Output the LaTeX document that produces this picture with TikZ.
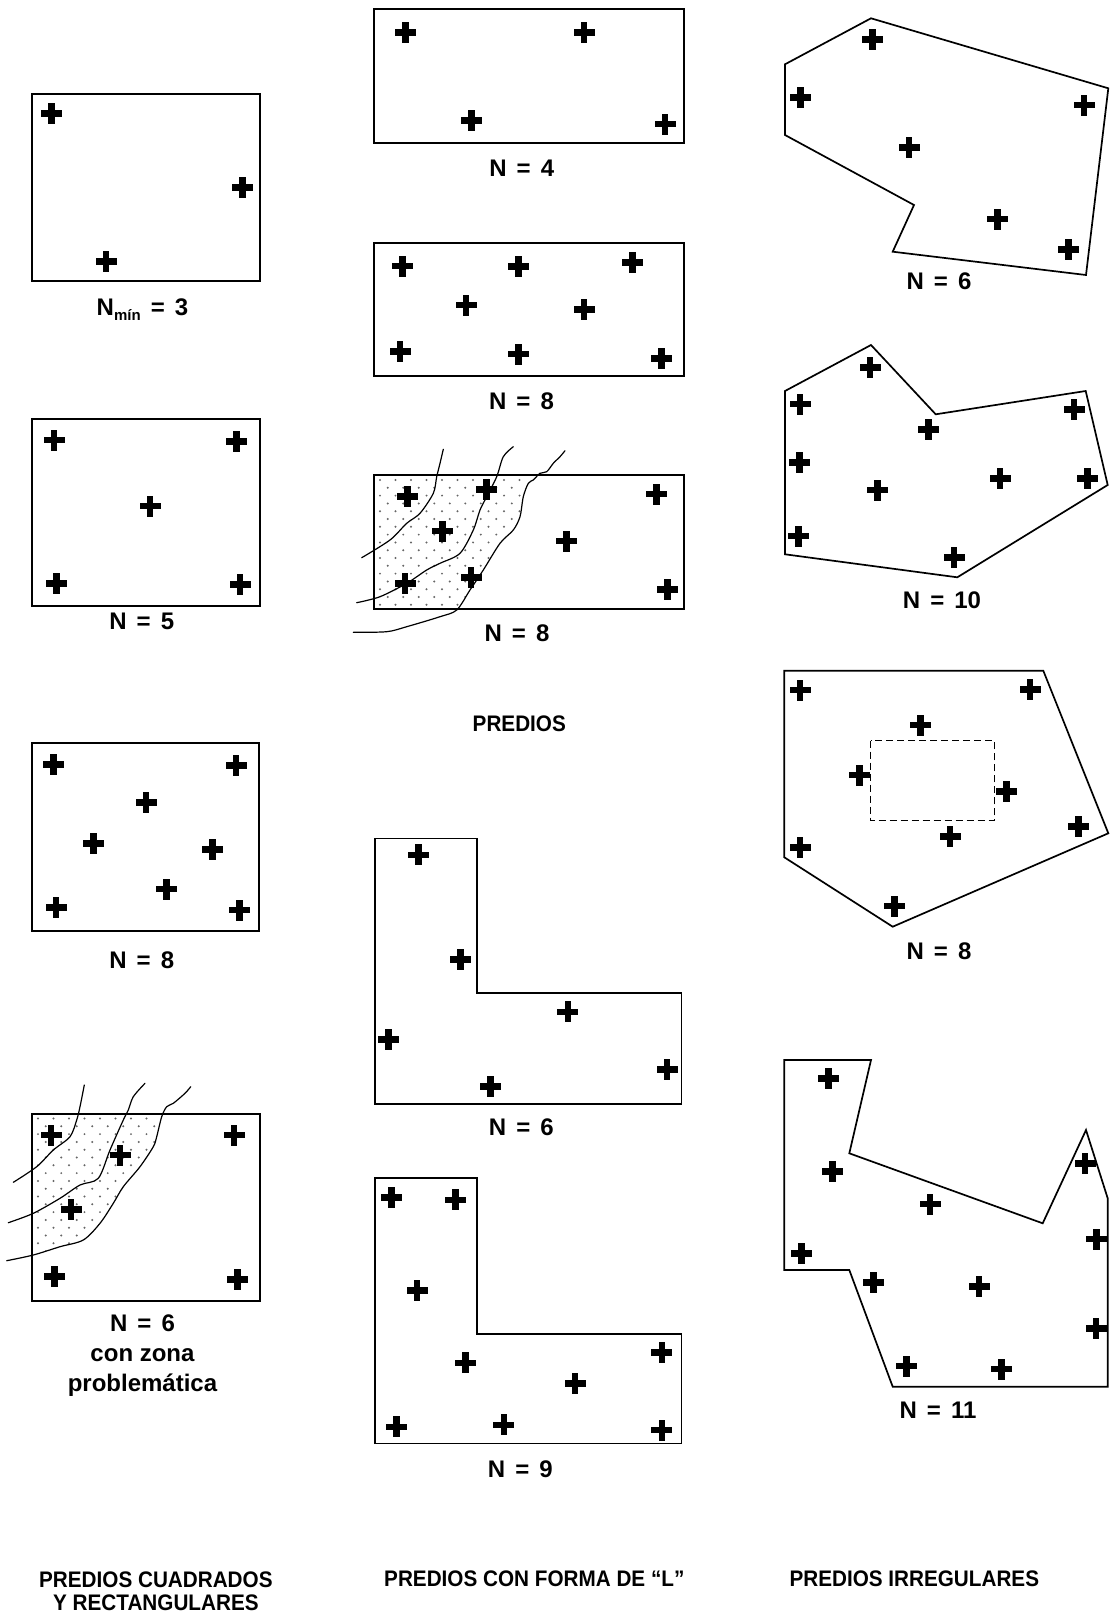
\documentclass[tikz,border=0pt]{standalone}
\usepackage{fontspec}
\setmainfont{Liberation Sans}
\newfontfamily\titfont[FakeStretch=0.92]{Liberation Sans}
\newcommand\igual{\hspace{0.42em}=\hspace{0.42em}}
\begin{document}
\begin{tikzpicture}[x=1pt,y=-1pt]
\tikzset{
  lot/.style={draw=black, line width=1.7pt, line join=miter},
  hueco/.style={draw=black, line width=1.5pt, dash pattern=on 7pt off 4pt},
  curva/.style={draw=black, line width=1.2pt, line cap=round},
  lbl/.style={font=\fontsize{24}{26}\selectfont\bfseries, inner sep=0pt},
  ttl/.style={font=\titfont\fontsize{22.5}{25}\selectfont\bfseries, inner sep=0pt, align=center},
  punto/.style={fill=black!60},
  cruz/.pic={\fill[black] (-10.5,-3.3) rectangle (10.5,3.3); \fill[black] (-3.3,-10.5) rectangle (3.3,10.5);}
}
\useasboundingbox (0,0) rectangle (1112,1619);

% ---------------- column 1: squares ----------------
\draw[lot] (32,94) rectangle (260,281);
\foreach \x/\y in {51.7/113.3, 242.3/187.3, 106/261.7} \pic at (\x,\y) {cruz};
\node[lbl, anchor=base] (nmin) at (142.5,315) {N\raisebox{-5pt}{\fontsize{15}{15}\selectfont mín}\igual 3};

\draw[lot] (32,419) rectangle (260,605.7);
\foreach \x/\y in {54/440, 236.7/441.7, 150/506, 56.7/583.3, 240/584.3} \pic at (\x,\y) {cruz};
\node[lbl] (n5) at (141.7,621.7) {N\igual 5};

\draw[lot] (32,743.3) rectangle (259,930.7);
\foreach \x/\y in {53.3/764.3, 236/765.7, 146/802.7, 93.3/843.3, 212.3/849.3, 166.7/889, 56/907.3, 239.3/910} \pic at (\x,\y) {cruz};
\node[lbl] (n8a) at (141.7,960) {N\igual 8};

% square with problem zone
\begin{scope}
  \clip (32,1114) rectangle (260,1301);
  \clip plot[smooth] coordinates {(190.7,1086.7) (185,1093.3) (173.3,1103.3) (166.7,1106.7) (161.7,1116.7) (156.7,1136.7) (153.3,1146.7) (140,1166.7) (123.3,1186.7) (113.3,1203.3) (100,1223.3) (83.3,1240) (60,1246.7) (33.3,1255) (6.7,1260.7)} -- (0,1260.7) -- (0,1086.7) -- cycle;
  \foreach \j in {0,...,22} \foreach \i in {0,...,12} {
    \pgfmathsetmacro\xx{38+mod(\j,2)*7.75+\i*15.5}
    \fill[punto] (\xx,1118.5+\j*7.8) circle (1.1);
  }
\end{scope}
\draw[lot] (32,1114) rectangle (260,1301);
\draw[curva] plot[smooth] coordinates {(84.3,1085) (80,1106.7) (76.7,1120) (70,1136.7) (53.3,1150) (36.7,1166.7) (13.3,1182.3)};
\draw[curva] plot[smooth] coordinates {(145,1083.3) (133.3,1096.7) (128.3,1110) (123.3,1120) (110,1150) (98.3,1178.3) (80,1185) (60,1198.3) (33.3,1213.3) (8.3,1222.7)};
\draw[curva] plot[smooth] coordinates {(190.7,1086.7) (185,1093.3) (173.3,1103.3) (166.7,1106.7) (161.7,1116.7) (156.7,1136.7) (153.3,1146.7) (140,1166.7) (123.3,1186.7) (113.3,1203.3) (100,1223.3) (83.3,1240) (60,1246.7) (33.3,1255) (6.7,1260.7)};
\foreach \x/\y in {51/1135, 120/1155, 71/1209.3, 234/1135, 54.3/1276.7, 237.3/1279.3} \pic at (\x,\y) {cruz};
\node[lbl, align=center] (n6z) at (142.5,1355.7) {N\igual 6\\[4pt]con zona\\[4pt]problemática};

% ---------------- column 2: rectangles ----------------
\draw[lot] (374,9.3) rectangle (684,142.7);
\foreach \x/\y in {405.7/32.3, 584/32.3, 471.7/120.7, 665/124} \pic at (\x,\y) {cruz};
\node[lbl] (n4) at (521.7,168.3) {N\igual 4};

\draw[lot] (374,242.7) rectangle (684,376);
\foreach \x/\y in {402.3/266, 518.3/266.7, 632.3/262.7, 466/305, 584/309.3, 400/351.7, 518.3/354, 661.7/358.3} \pic at (\x,\y) {cruz};
\node[lbl] (n8b) at (521.5,401.7) {N\igual 8};

% rectangle with problem zone
\begin{scope}
  \clip (374,475) rectangle (684,609.3);
  \clip plot[smooth] coordinates {(565,450.7) (560,456.7) (553.3,463.3) (546.7,471.7) (540,473.3) (533.3,480) (528.3,483.3) (523.3,496.7) (520,516.7) (513.3,530) (500,543.3) (483.3,570) (470,590) (456.7,610) (440,616.7) (406.7,626.7) (386.7,631.7) (353.3,632.3)} -- (340,632.3) -- (340,450.7) -- cycle;
  \foreach \j in {0,...,17} \foreach \i in {0,...,12} {
    \pgfmathsetmacro\xx{380+mod(\j,2)*7.75+\i*15.5}
    \fill[punto] (\xx,480+\j*7.8) circle (1.1);
  }
\end{scope}
\draw[lot] (374,475) rectangle (684,609.3);
\draw[curva] plot[smooth] coordinates {(443.3,449.3) (440,463.3) (436.7,476.7) (433.3,493.3) (420,513.3) (406.7,523.3) (390,540) (361.7,557.7)};
\draw[curva] plot[smooth] coordinates {(513.3,446.7) (503.3,456.7) (496.7,476.7) (486.7,496.7) (480,510) (473.3,530) (460,553.3) (440,563.3) (426.7,570) (406.7,583.3) (380,596.7) (356.7,602.7)};
\draw[curva] plot[smooth] coordinates {(565,450.7) (560,456.7) (553.3,463.3) (546.7,471.7) (540,473.3) (533.3,480) (528.3,483.3) (523.3,496.7) (520,516.7) (513.3,530) (500,543.3) (483.3,570) (470,590) (456.7,610) (440,616.7) (406.7,626.7) (386.7,631.7) (353.3,632.3)};
\foreach \x/\y in {407.7/496.7, 486.7/489.3, 442.3/531, 566.7/541, 656.7/494, 405/583.3, 471/577.7, 667.3/589.3} \pic at (\x,\y) {cruz};
\node[lbl] (n8c) at (517,633) {N\igual 8};

\node[ttl] (predios) at (519.3,723.8) {PREDIOS};

% L shapes
\draw[lot] (374.8,838.4) -- (477,838.4) -- (477,993.2) -- (681.5,993.2) -- (681.5,1103.7) -- (374.8,1103.7) -- cycle;
\foreach \x/\y in {418.2/854.9, 460.5/959.2, 388.2/1039.7, 567.9/1011.8, 490.4/1086.2, 667/1069.7} \pic at (\x,\y) {cruz};
\node[lbl] (n6l) at (521.4,1127.5) {N\igual 6};

\draw[lot] (374.8,1178.1) -- (477,1178.1) -- (477,1334) -- (681.5,1334) -- (681.5,1443.4) -- (374.8,1443.4) -- cycle;
\foreach \x/\y in {391.3/1197.7, 455.3/1199.8, 417.1/1290.6, 465.7/1362.9, 575.1/1383.6, 661.8/1352.6, 396.5/1426.9, 503.9/1424.9, 661.8/1430} \pic at (\x,\y) {cruz};
\node[lbl] (n9) at (520.4,1469.2) {N\igual 9};

% ---------------- column 3: irregular ----------------
\draw[lot] (871,18.3) -- (1108.3,88.3) -- (1086,275) -- (892.7,251.7) -- (914,205) -- (785,135) -- (785,64.3) -- cycle;
\foreach \x/\y in {872.7/39.3, 800.7/97.7, 1084/105, 909/147.7, 997.7/219, 1068.3/249.3} \pic at (\x,\y) {cruz};
\node[lbl] (n6i) at (939,281.7) {N\igual 6};

\draw[lot] (871,345) -- (935.7,414.3) -- (1085.7,391) -- (1107.7,485) -- (957.3,577.3) -- (785,554.3) -- (785,391) -- cycle;
\foreach \x/\y in {870/367.3, 800/404, 928.3/429.3, 1074/409.3, 799.3/462.3, 877.3/490, 1000/478.3, 1087.7/478.3, 798.3/536, 954/557.7} \pic at (\x,\y) {cruz};
\node[lbl] (n10) at (942,600) {N\igual 10};

\draw[lot] (784.3,670.7) -- (1043.3,670.7) -- (1108.3,833.3) -- (892.7,926.7) -- (784.3,857.3) -- cycle;
\draw[hueco] (870.7,740.7) rectangle (994.3,820.7);
\foreach \x/\y in {800/690, 1030/689.3, 920.7/725, 859.3/775, 1006.7/791.7, 950/836.7, 1078.3/826.7, 800/847.3, 894.3/906} \pic at (\x,\y) {cruz};
\node[lbl] (n8i) at (939,951) {N\igual 8};

\draw[lot] (784.3,1060) -- (871,1060) -- (849.3,1153.3) -- (1042.7,1223.3) -- (1086,1130) -- (1107.7,1198.3) -- (1107.7,1386.7) -- (892.7,1386.7) -- (849.3,1270) -- (784.3,1270) -- cycle;
\foreach \x/\y in {828.3/1078.3, 832.7/1171.7, 930/1204, 1085/1163.3, 801.7/1253.3, 873.3/1282.3, 979/1286.7, 1096.7/1239, 1096/1328.3, 906.7/1366, 1001.7/1369} \pic at (\x,\y) {cruz};
\node[lbl] (n11) at (938,1410) {N\igual 11};

% ---------------- titles ----------------
\node[ttl] (t1) at (155.9,1591) {PREDIOS CUADRADOS\\[-2pt]Y RECTANGULARES};
\node[ttl] (t2) at (534.3,1578.7) {PREDIOS CON FORMA DE “L”};
\node[ttl] (t3) at (914.3,1578.7) {PREDIOS IRREGULARES};
\end{tikzpicture}
\end{document}
